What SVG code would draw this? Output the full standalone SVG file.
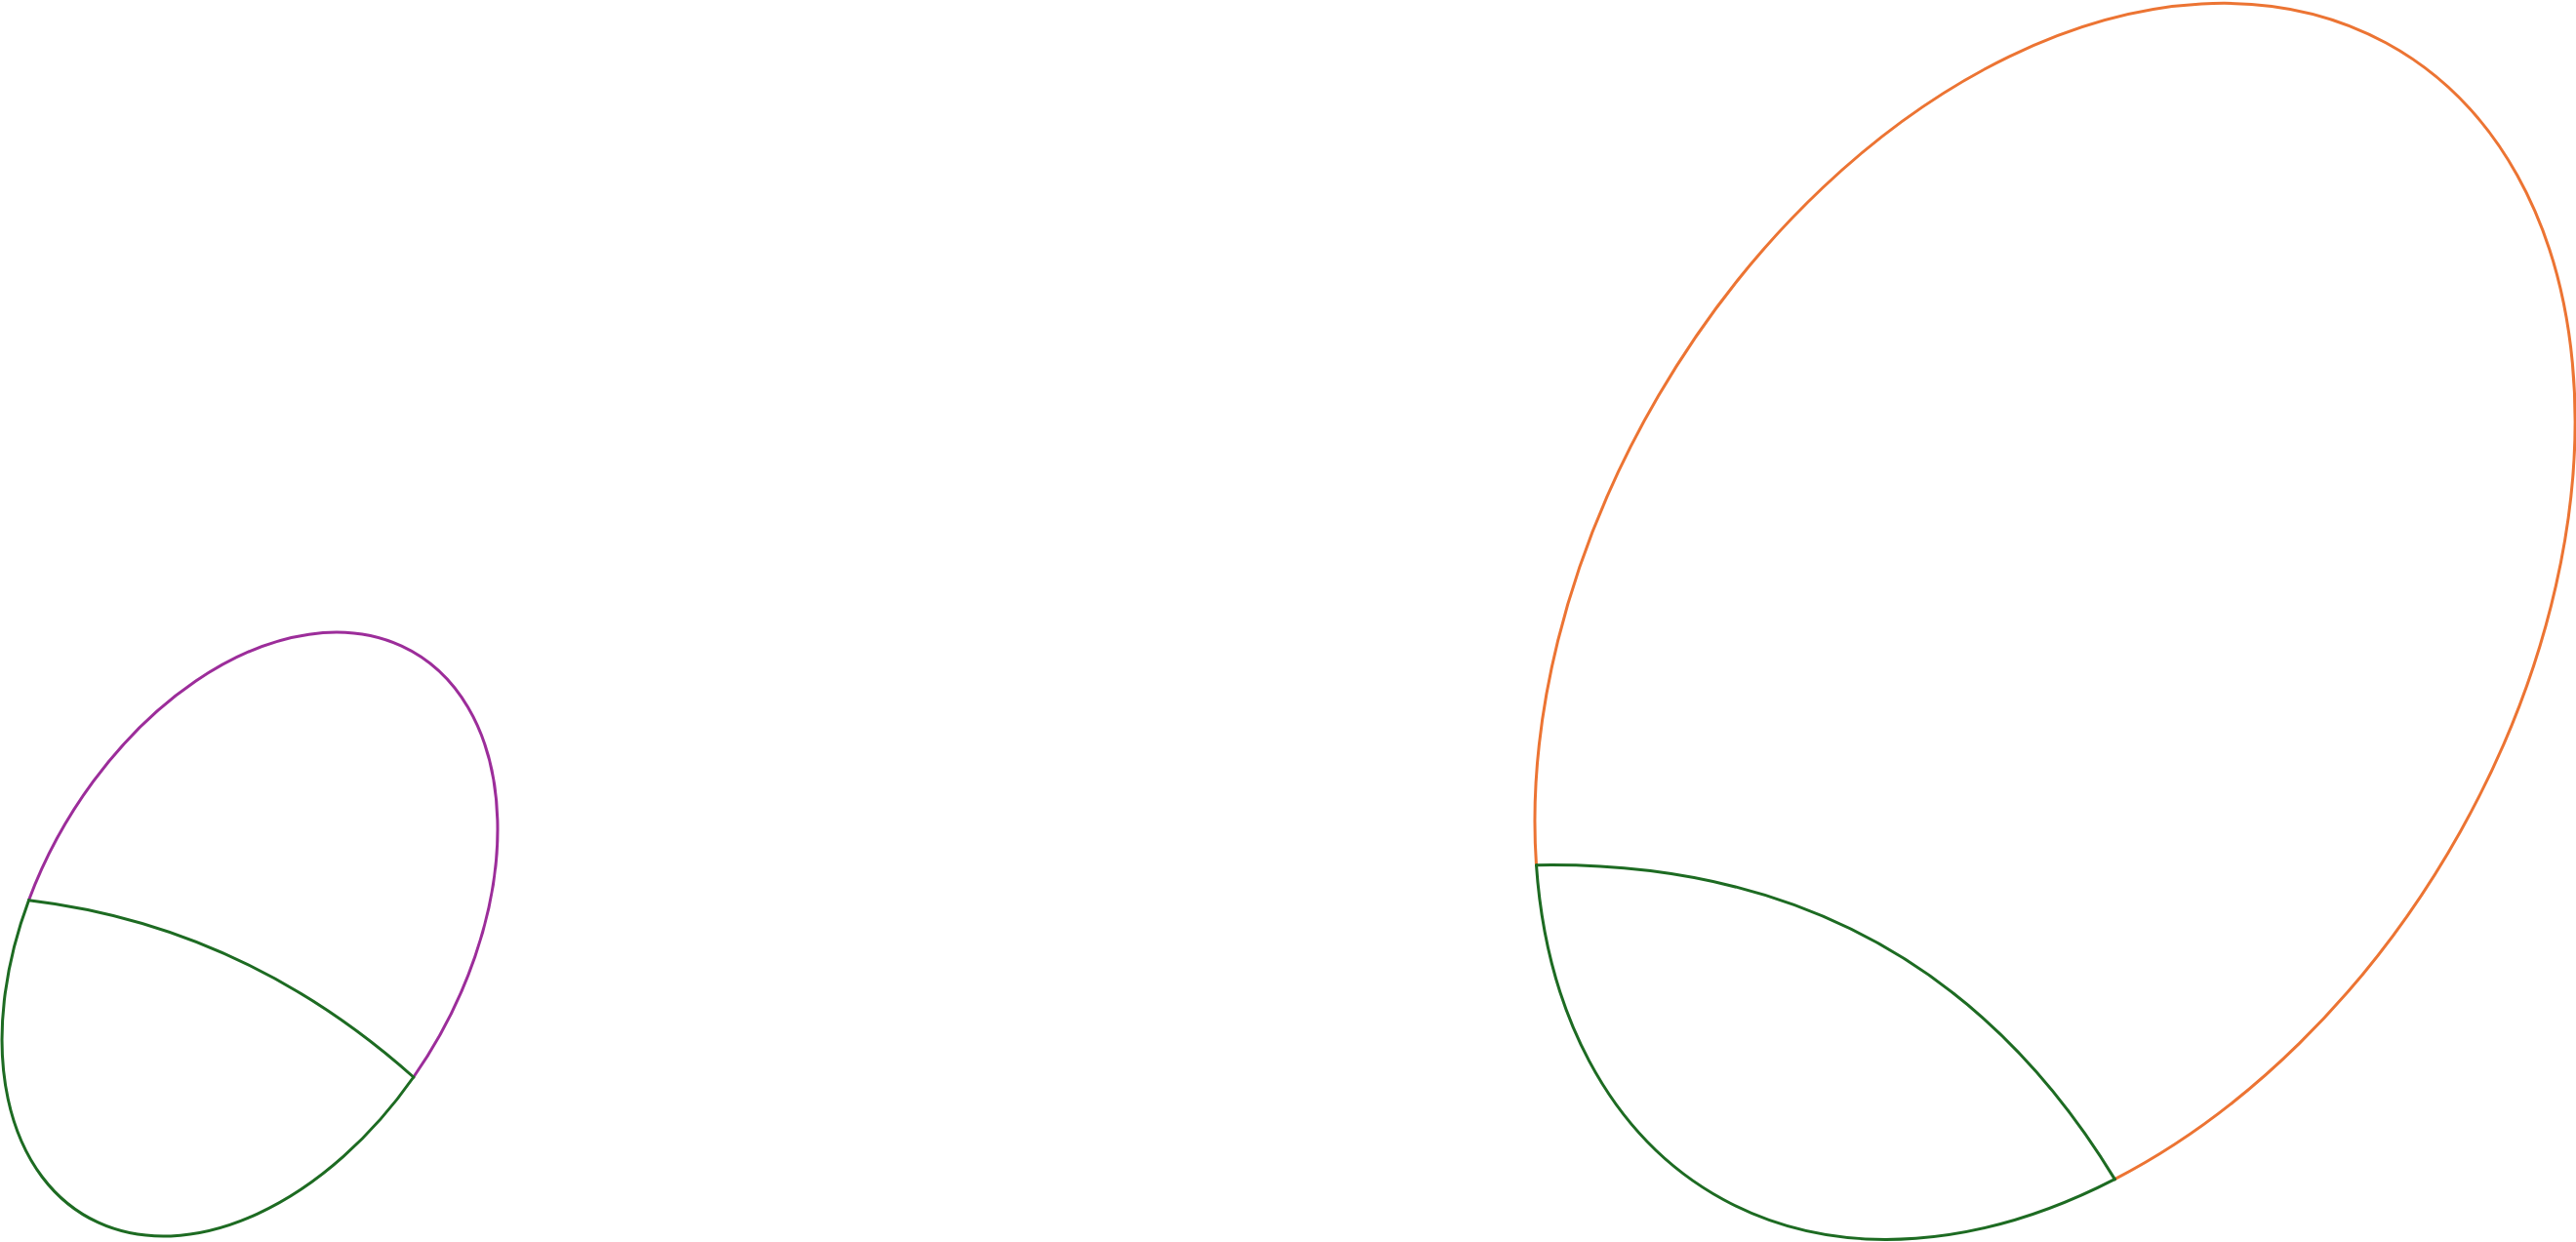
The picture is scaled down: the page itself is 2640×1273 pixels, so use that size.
<svg xmlns="http://www.w3.org/2000/svg" width="2640" height="1273" viewBox="0 0 2640 1273">
<style>
.ln{fill:none;stroke-width:3;stroke-linejoin:round;stroke-linecap:round}
.pur{stroke:#9C2D9A}
.org{stroke:#EC7433}
.grn{stroke:#1D6B22}
</style>
<rect x="0" y="0" width="2640" height="1273" fill="#FFFFFF"/>
<g id="node-left">
<path class="ln pur" d="M29.5,922.7 A334.2,220.4 -59.85 1 1 423.8,1104"/>
<path class="ln grn" d="M423.8,1104 A334.2,220.4 -59.85 0 1 29.5,922.7"/>
</g>
<g id="node-right">
<path class="ln org" d="M1574.5,886.7 A683.3,467.5 -59.08 1 1 2167.3,1208.6"/>
<path class="ln grn" d="M2167.3,1208.6 A683.3,467.5 -59.08 0 1 1574.5,886.7"/>
</g>
<g id="connectors">
<path class="ln grn" d="M29.5,922.7 Q250,949 423.8,1104"/>
<path class="ln grn" d="M1574.5,886.7 Q1968,880 2167.3,1208.6"/>
</g>
</svg>
